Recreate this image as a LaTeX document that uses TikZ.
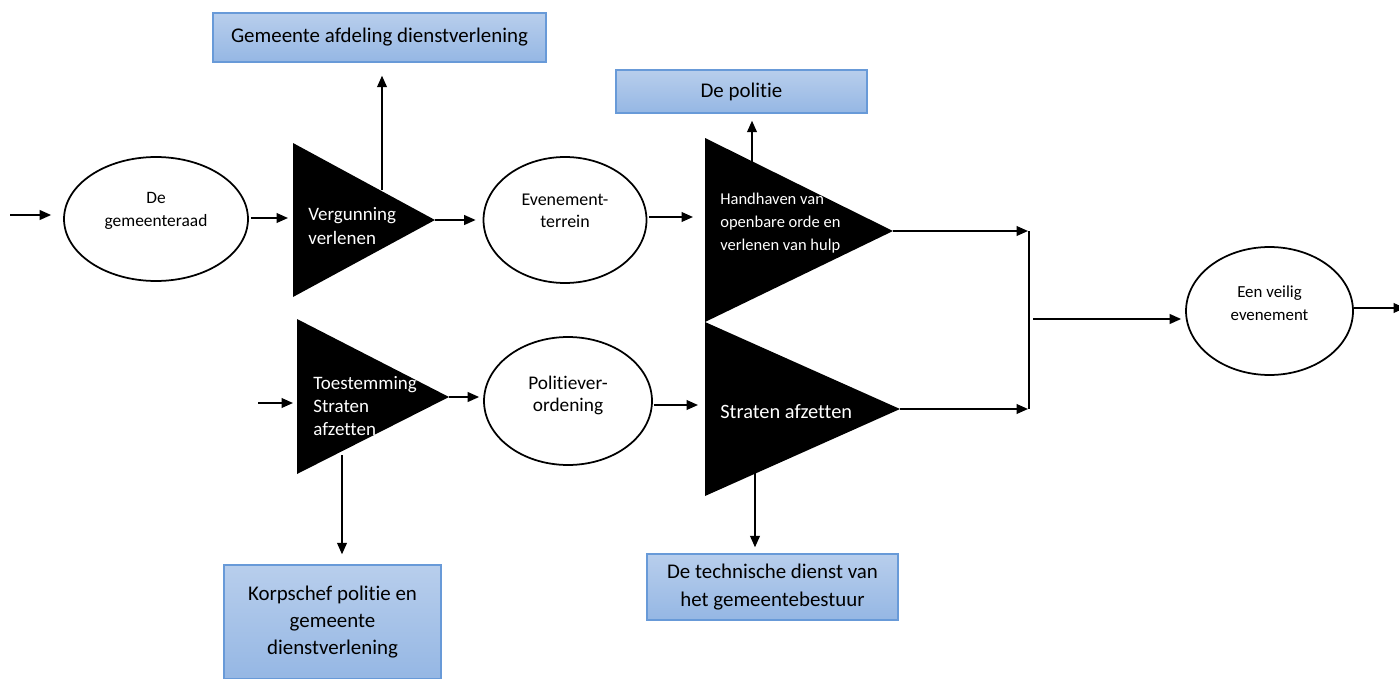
\documentclass[tikz,border=0pt]{standalone}
\usepackage{fontspec}
\setmainfont[Ligatures=NoCommon]{Carlito}
\usetikzlibrary{shapes.geometric}
\usetikzlibrary{arrows.meta}
\usetikzlibrary{calc}
\definecolor{boxtop}{RGB}{184,206,236}
\definecolor{boxbot}{RGB}{149,183,228}
\definecolor{boxline}{RGB}{104,154,216}
\tikzstyle{box} = [rectangle, draw=boxline, line width=0.8pt, top color=boxtop, bottom color=boxbot, align=center, inner sep=0pt, font=\fontsize{11.9}{15.5}\selectfont]
\tikzstyle{proc} = [ellipse, draw=black, line width=1pt, align=center, inner sep=0pt, font=\fontsize{9.6}{13.2}\selectfont]
\tikzstyle{wedge} = [fill=black]
\tikzstyle{wedgetext} = [text=white, align=left, anchor=west, inner sep=0pt]
\tikzstyle{arrow} = [-{Triangle[length=6.5pt,width=5.5pt]}, line width=1pt]
\newcommand{\gap}{0.24cm}
\newcommand{\smallgap}{0.1cm}

\begin{document}
\begin{tikzpicture}[x=0.02cm, y=-0.02cm]

  \useasboundingbox (0,0) rectangle (1399,679);

  % boxes with the actors
  \node (dienst) [box, minimum width=6.66cm, minimum height=0.98cm] at (379.5,37.5) {Gemeente afdeling dienstverlening};
  \node (politie) [box, minimum width=5.02cm, minimum height=0.86cm] at (741.5,91.5) {De politie};
  \node (korps) [box, minimum width=4.34cm, minimum height=2.28cm] at (332.5,622) {Korpschef politie en\\gemeente\\dienstverlening};
  \node (techn) [box, minimum width=5.02cm, minimum height=1.32cm] at (772.5,587) {De technische dienst van\\het gemeentebestuur};

  % ellipses (text depth lifts the text a little above the middle)
  \node (raad) [proc, minimum width=3.68cm, minimum height=2.48cm, text depth=10.6pt, font=\fontsize{9.9}{13.2}\selectfont] at (156,219) {De\\gemeenteraad};
  \node (even) [proc, minimum width=3.26cm, minimum height=2.52cm, text depth=10.2pt, font=\fontsize{10.2}{12.6}\selectfont] at (565,220) {Evenement-\\terrein};
  \node (polit) [proc, minimum width=3.36cm, minimum height=2.56cm, text depth=8.4pt, font=\fontsize{11}{12.6}\selectfont] at (568,401) {Politiever-\\ordening};
  \node (veilig) [proc, minimum width=3.34cm, minimum height=2.56cm, text depth=8.6pt] at (1269.5,311) {Een veilig\\evenement};

  % triangles
  \fill [wedge] (293,143) -- (293,297) -- (435,220) -- cycle;
  \fill [wedge] (297,319) -- (297,474) -- (449,397) -- cycle;
  \fill [wedge] (705,138) -- (705,322) -- (893,231) -- cycle;
  \fill [wedge] (705,322) -- (705,496) -- (900,409) -- cycle;

  \coordinate (verg tip) at (435,220);
  \coordinate (verg top) at (382,190);
  \coordinate (verg w) at (293,218);
  \coordinate (toest tip) at (449,397);
  \coordinate (toest bot) at (342,455);
  \coordinate (toest w) at (297,403);
  \coordinate (handh tip) at (893,231);
  \coordinate (handh top) at (752,164);
  \coordinate (handh w) at (705,217);
  \coordinate (afzet tip) at (900,409);
  \coordinate (afzet bot) at (755,470);
  \coordinate (afzet w) at (705,405);

  \node (verg) [wedgetext, font=\fontsize{10.8}{13.6}\selectfont] at (308,226) {Vergunning\\verlenen};
  \node (toest) [wedgetext, font=\fontsize{10.8}{13.3}\selectfont] at (313,406) {Toestemming\\Straten\\afzetten};
  \node (handh) [wedgetext, font=\fontsize{9.4}{13}\selectfont] at (720,223) {Handhaven van\\openbare orde en\\verlenen van hulp};
  \node (afzet) [wedgetext, font=\fontsize{11.6}{14}\selectfont] at (720,412) {Straten afzetten};

  % loose ends and the bracket
  \coordinate (start) at (10,215);
  \coordinate (toest in) at (258,403);
  \coordinate (join top) at (1029,231);
  \coordinate (join bot) at (1029,409);
  \coordinate (join mid) at (1033,319);
  \coordinate (uit) at (1405,308);

  % upper row
  \draw [arrow, shorten >=\gap] (start) -- (start -| raad.west);
  \draw [arrow, shorten <=0.04cm, shorten >=\smallgap] (raad.east |- verg w) -- (verg w);
  \draw [arrow, shorten >=0.26cm] (verg top) -- (verg top |- dienst.south);
  \draw [arrow, shorten >=0.14cm] (verg tip) -- (verg tip -| even.west);
  \draw [arrow, shorten <=0.04cm, shorten >=\gap] (even.east |- handh w) -- (handh w);
  \draw [arrow, shorten >=0.14cm] (handh top) -- (handh top |- politie.south);
  \draw [arrow, shorten >=0.02cm] (handh tip) -- (join top);

  % lower row
  \draw [arrow, shorten >=0.08cm] (toest in) -- (toest w);
  \draw [arrow, shorten >=0.08cm] (toest tip) -- (toest tip -| polit.west);
  \draw [arrow, shorten >=0.2cm] (toest bot) -- (toest bot |- korps.north);
  \draw [arrow, shorten <=0.02cm, shorten >=0.14cm] (polit.east |- afzet w) -- (afzet w);
  \draw [arrow, shorten >=0.12cm] (afzet bot) -- (afzet bot |- techn.north);
  \draw [arrow, shorten >=0.02cm] (afzet tip) -- (join bot);

  % towards the end
  \draw [line width=0.6pt] (join top) -- (join bot);
  \draw [arrow, shorten >=0.08cm] (join mid) -- (join mid -| veilig.west);
  \draw [arrow] (veilig.east |- uit) -- (uit);

\end{tikzpicture}
\end{document}
